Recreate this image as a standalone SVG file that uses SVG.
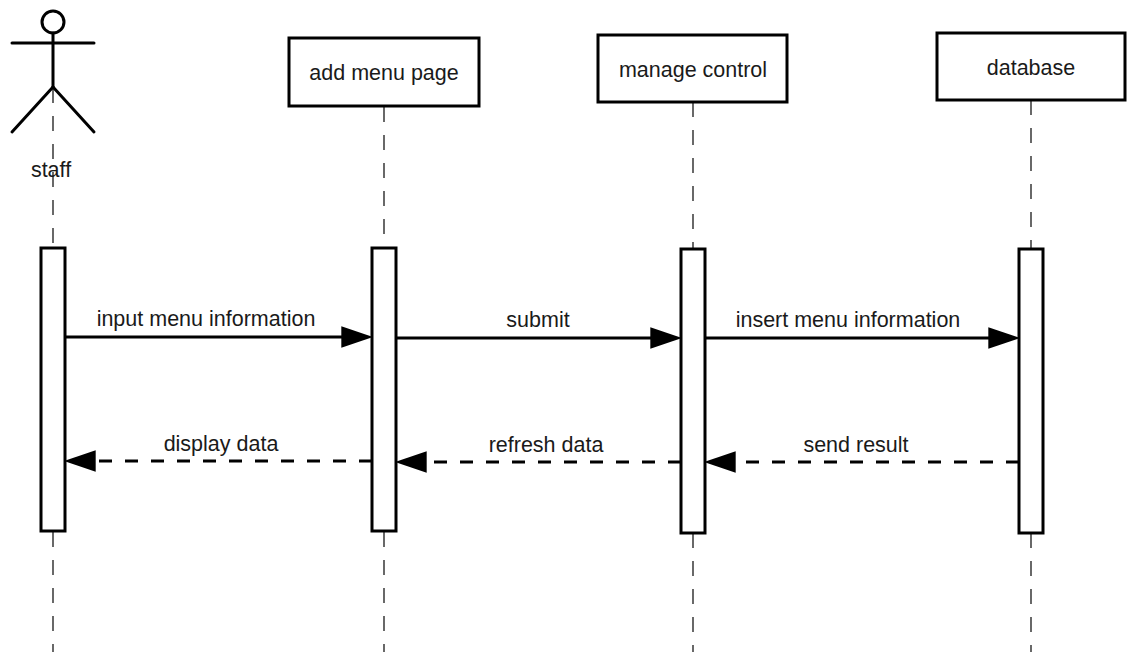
<svg xmlns="http://www.w3.org/2000/svg" width="1134" height="652" viewBox="0 0 1134 652">
  <style>
    .lbl { font-family: "Liberation Sans", Arial, sans-serif; font-size: 21.5px; fill: #1a1a1a; text-anchor: middle; }
    .box { fill: #ffffff; stroke: #000000; stroke-width: 3; }
    .act { fill: #ffffff; stroke: #000000; stroke-width: 3; }
    .life { stroke: #444444; stroke-width: 1.6; stroke-dasharray: 15 13; fill: none; }
    .msg { stroke: #000000; stroke-width: 3; fill: none; marker-end: url(#arrow); }
    .ret { stroke: #000000; stroke-width: 3; fill: none; stroke-dasharray: 13 13; marker-end: url(#arrow); }
    .fig { stroke: #000000; stroke-width: 3; fill: none; stroke-linecap: round; }
  </style>
  <defs>
    <marker id="arrow" markerUnits="userSpaceOnUse" markerWidth="32" markerHeight="22" viewBox="0 0 30 20" refX="10" refY="10" orient="auto">
      <path d="M0,0 L30,10 L0,20 Z" fill="#000000" stroke="none"/>
    </marker>
  </defs>

  <rect width="1134" height="652" fill="#ffffff"/>

  <g id="lifelines">
    <line class="life" x1="53" y1="88" x2="53" y2="247"/>
    <line class="life" x1="53" y1="532" x2="53" y2="652"/>
    <line class="life" x1="384" y1="107" x2="384" y2="247"/>
    <line class="life" x1="384" y1="532" x2="384" y2="652"/>
    <line class="life" x1="693" y1="102" x2="693" y2="249"/>
    <line class="life" x1="693" y1="533" x2="693" y2="652"/>
    <line class="life" x1="1031" y1="100" x2="1031" y2="249"/>
    <line class="life" x1="1031" y1="533" x2="1031" y2="652"/>
  </g>

  <g id="staff">
    <circle class="fig" cx="53" cy="22" r="11"/>
    <line class="fig" x1="53" y1="33" x2="53" y2="87"/>
    <line class="fig" x1="12" y1="43" x2="94" y2="43"/>
    <line class="fig" x1="53" y1="87" x2="12" y2="132"/>
    <line class="fig" x1="53" y1="87" x2="94" y2="132"/>
    <text class="lbl" x="51" y="177">staff</text>
    <rect class="act" x="41" y="248" width="24" height="283"/>
  </g>

  <g id="add-menu-page">
    <rect class="box" x="289" y="38" width="190" height="68"/>
    <text class="lbl" x="384" y="80">add menu page</text>
    <rect class="act" x="372" y="248" width="24" height="283"/>
  </g>

  <g id="manage-control">
    <rect class="box" x="598" y="35" width="189" height="67"/>
    <text class="lbl" x="693" y="77">manage control</text>
    <rect class="act" x="681" y="249" width="24" height="284"/>
  </g>

  <g id="database">
    <rect class="box" x="937" y="33" width="188" height="67"/>
    <text class="lbl" x="1031" y="75">database</text>
    <rect class="act" x="1019" y="249" width="24" height="284"/>
  </g>

  <g id="connectors">
    <line class="msg" x1="65" y1="337" x2="352" y2="337"/>
    <text class="lbl" x="206" y="326">input menu information</text>
    <line class="msg" x1="396" y1="338" x2="661" y2="338"/>
    <text class="lbl" x="538" y="327">submit</text>
    <line class="msg" x1="705" y1="338" x2="999" y2="338"/>
    <text class="lbl" x="848" y="327">insert menu information</text>

    <line class="ret" x1="1019" y1="462" x2="725" y2="462"/>
    <text class="lbl" x="856" y="452">send result</text>
    <line class="ret" x1="681" y1="462" x2="416" y2="462"/>
    <text class="lbl" x="546" y="452">refresh data</text>
    <line class="ret" x1="372" y1="461" x2="85" y2="461"/>
    <text class="lbl" x="221" y="451">display data</text>
  </g>
</svg>
